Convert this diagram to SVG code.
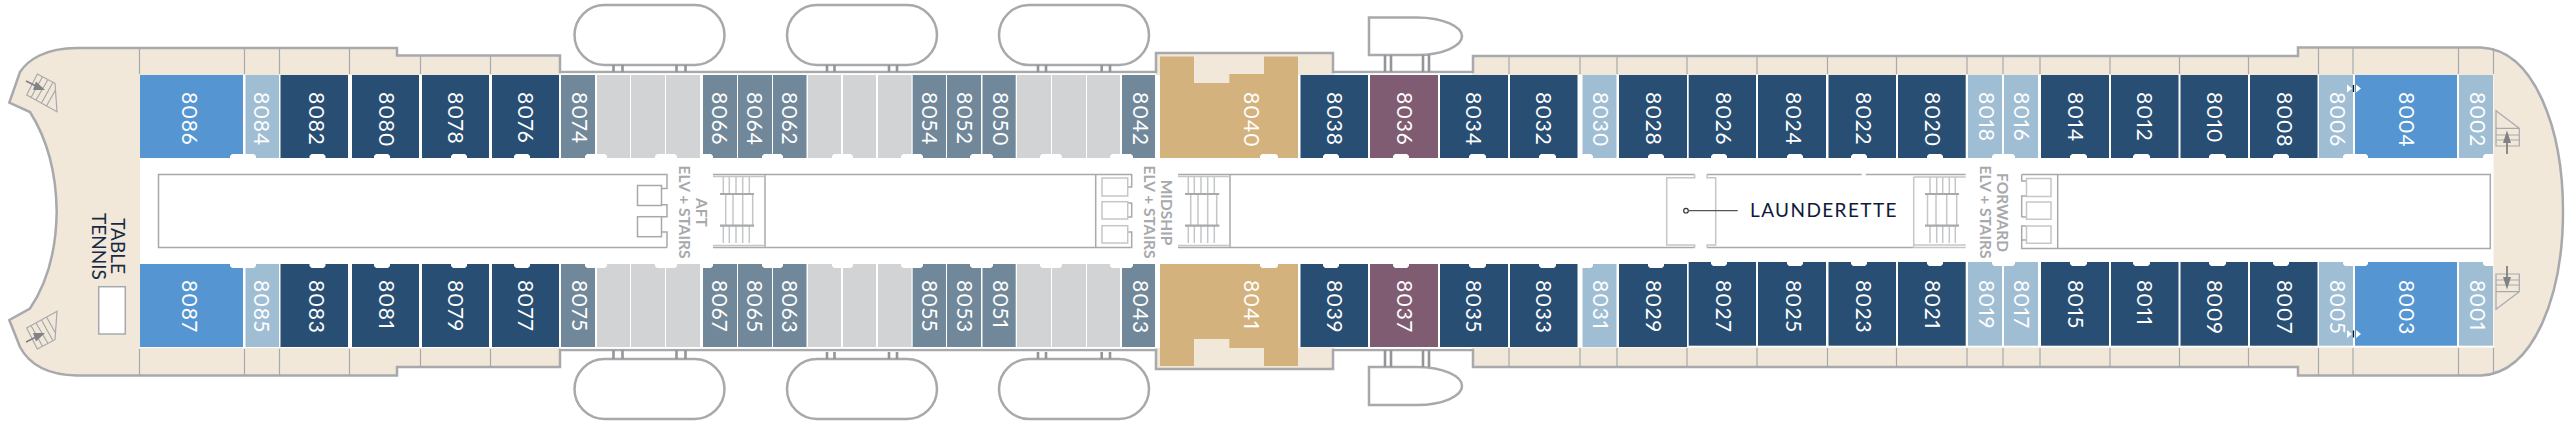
<svg xmlns="http://www.w3.org/2000/svg" width="2571" height="426" viewBox="0 0 2571 426">
<style>
text{font-family:"Lato","Liberation Sans",sans-serif}
.b{fill:#284e73}.m{fill:#5596d2}.l{fill:#9fbed4}.s{fill:#71889a}.g{fill:#d1d3d4}.p{fill:#7f5c71}.u{fill:#d4b27e}
.t{fill:#fff;font-size:21px;letter-spacing:.8px;font-variant-numeric:proportional-nums}
.e{fill:#a7a9ac;font-size:15.5px;font-weight:700;text-anchor:middle}
.h{fill:#1a2a44;font-size:19px;text-anchor:middle}
.n{fill:#fff}
.w{fill:none;stroke:#a7a9ac;stroke-width:1.5}
.w2{fill:none;stroke:#c4c6c8;stroke-width:1.5}
.hl{fill:#fff;stroke:#a7a9ac;stroke-width:2.5}
.d{stroke:#a7a9ac;stroke-width:1.2;fill:none}
.c{stroke:#939598;stroke-width:2.6;fill:none}
.a{fill:#808285}
.ar{stroke:#808285;stroke-width:1.8;fill:none}
</style>
<defs>
<g id="boat"><rect x="0" y="0" width="150" height="60" rx="30" class="hl"/></g>
</defs>
<g id="hull">
<path d="M77 48H397V55.500H560V72H1156V53H1333V72H1473V56H2298V47.500H2481C2535 50 2563 130 2563 211.500C2563 293 2535 373 2481 375.500H2298V367H1473V350H1333V369H1156V350H560V367H397V375.500H77C45 375 28 362 20 347L9.300 320L30 308.500Q56 270 56.700 211.500Q56 153 30 112L9.300 102.700L20 72C28 60 45 48 77 48Z" style="fill:#f1e8da;stroke:#a7a9ac;stroke-width:2.5"/>
<rect x="560.500" y="73.300" width="595" height="275.500" fill="#fff"/>
<rect x="1334.500" y="73.300" width="137.500" height="275.500" fill="#fff"/>
<rect x="140" y="75" width="1020" height="273" fill="#fff"/>
<rect x="1160" y="75" width="1333.500" height="272.500" fill="#fff"/>
<rect x="1190" y="74" width="78" height="10" fill="#f1e8da"/>
<rect x="1190" y="338" width="78" height="11" fill="#f1e8da"/>
<rect x="1299.500" y="74" width="33" height="1.500" fill="#f1e8da"/>
<rect x="1299.500" y="347.500" width="33" height="1.500" fill="#f1e8da"/>
</g>
<g id="balcony-dividers" class="d">
<path d="M139.500 48V74M244.500 48V74M279.500 48V74M349.500 48V74M420.500 56V74M490.500 56V74M1509 56V74M1580 56V74M1617 56V74M1687 56V74M1757 56V74M1827.500 56V74M1896.500 56V74M1967 56V74M2003 56V74M2040 56V74M2110 56V74M2179.500 56V74M2248.500 56V74M2318.500 48V74M2353 48V74M2458.500 48V74M2493.500 48V74"/>
<path d="M139.500 349V375M244.500 349V375M279.500 349V375M349.500 349V375M420.500 349V366M490.500 349V366M1509 348V366M1580 348V366M1617 348V366M1687 348V366M1757 348V366M1827.500 348V366M1896.500 348V366M1967 348V366M2003 348V366M2040 348V366M2110 348V366M2179.500 348V366M2248.500 348V366M2318.500 348V375M2353 348V375M2458.500 348V375M2493.500 348V375"/>
</g>
<g id="top-row">
<g id="c8086"><rect class="m" x="140" y="75" width="103" height="83"/><text class="t" transform="translate(181.500,92) rotate(90)">8086</text></g>
<g id="c8084"><rect class="l" x="245.500" y="75" width="33.500" height="83"/><text class="t" transform="translate(254,92) rotate(90)">8084</text></g>
<g id="c8082"><rect class="b" x="280.500" y="75" width="67.500" height="83"/><text class="t" transform="translate(309,92) rotate(90)">8082</text></g>
<g id="c8080"><rect class="b" x="352" y="75" width="67" height="83"/><text class="t" transform="translate(378.500,92) rotate(90)">8080</text></g>
<g id="c8078"><rect class="b" x="422" y="75" width="67" height="83"/><text class="t" transform="translate(447.500,92) rotate(90)">8078</text></g>
<g id="c8076"><rect class="b" x="492" y="75" width="67" height="83"/><text class="t" transform="translate(517.500,92) rotate(90)">8076</text></g>
<g id="c8074"><rect class="s" x="561" y="75" width="34" height="83"/><text class="t" transform="translate(572,92) rotate(90)">8074</text></g>
<rect class="g" x="597" y="75" width="33" height="83"/><rect class="g" x="631" y="75" width="34" height="83"/><rect class="g" x="666" y="75" width="34" height="83"/>
<g id="c8066"><rect class="s" x="703" y="75" width="34" height="83"/><text class="t" transform="translate(712,92) rotate(90)">8066</text></g>
<g id="c8064"><rect class="s" x="738" y="75" width="34" height="83"/><text class="t" transform="translate(746.500,92) rotate(90)">8064</text></g>
<g id="c8062"><rect class="s" x="773" y="75" width="33.500" height="83"/><text class="t" transform="translate(782,92) rotate(90)">8062</text></g>
<rect class="g" x="808" y="75" width="33" height="83"/><rect class="g" x="843" y="75" width="33" height="83"/><rect class="g" x="878" y="75" width="33.500" height="83"/>
<g id="c8054"><rect class="s" x="912.700" y="75" width="33.300" height="83"/><text class="t" transform="translate(922,92) rotate(90)">8054</text></g>
<g id="c8052"><rect class="s" x="947" y="75" width="34" height="83"/><text class="t" transform="translate(956.500,92) rotate(90)">8052</text></g>
<g id="c8050"><rect class="s" x="982.500" y="75" width="33.200" height="83"/><text class="t" transform="translate(992.500,92) rotate(90)">8050</text></g>
<rect class="g" x="1017" y="75" width="34" height="83"/><rect class="g" x="1052" y="75" width="34" height="83"/><rect class="g" x="1087" y="75" width="33" height="83"/>
<g id="c8042"><rect class="s" x="1122" y="75" width="33" height="83"/><text class="t" transform="translate(1132.500,92) rotate(90)">8042</text></g>
<g id="c8040"><path class="u" d="M1160 56.500H1194V83H1229.300V74H1264V56.500H1298V158H1160Z"/><text class="t" transform="translate(1243.500,92) rotate(90)">8040</text></g>
<g id="c8038"><rect class="b" x="1300.500" y="75" width="67.500" height="83"/><text class="t" transform="translate(1327,92) rotate(90)">8038</text></g>
<g id="c8036"><rect class="p" x="1370" y="75" width="68" height="83"/><text class="t" transform="translate(1396.500,92) rotate(90)">8036</text></g>
<g id="c8034"><rect class="b" x="1440" y="75" width="68" height="83"/><text class="t" transform="translate(1466,92) rotate(90)">8034</text></g>
<g id="c8032"><rect class="b" x="1510" y="75" width="67.500" height="83"/><text class="t" transform="translate(1536,92) rotate(90)">8032</text></g>
<g id="c8030"><rect class="l" x="1582.500" y="75" width="34" height="83"/><text class="t" transform="translate(1592.500,92) rotate(90)">8030</text></g>
<g id="c8028"><rect class="b" x="1619" y="75" width="68" height="83"/><text class="t" transform="translate(1646,92) rotate(90)">8028</text></g>
<g id="c8026"><rect class="b" x="1688.700" y="75" width="67.300" height="83"/><text class="t" transform="translate(1715.500,92) rotate(90)">8026</text></g>
<g id="c8024"><rect class="b" x="1758" y="75" width="68" height="83"/><text class="t" transform="translate(1786,92) rotate(90)">8024</text></g>
<g id="c8022"><rect class="b" x="1828.500" y="75" width="67.500" height="83"/><text class="t" transform="translate(1856,92) rotate(90)">8022</text></g>
<g id="c8020"><rect class="b" x="1898" y="75" width="67.700" height="83"/><text class="t" transform="translate(1925,92) rotate(90)">8020</text></g>
<g id="c8018"><rect class="l" x="1968" y="75" width="34" height="83"/><text class="t" transform="translate(1978.500,92) rotate(90)">8018</text></g>
<g id="c8016"><rect class="l" x="2004" y="75" width="34" height="83"/><text class="t" transform="translate(2013.500,92) rotate(90)">8016</text></g>
<g id="c8014"><rect class="b" x="2041" y="75" width="68" height="83"/><text class="t" transform="translate(2067.500,92) rotate(90)">8014</text></g>
<g id="c8012"><rect class="b" x="2111" y="75" width="67.500" height="83"/><text class="t" transform="translate(2136.500,92) rotate(90)">8012</text></g>
<g id="c8010"><rect class="b" x="2180.500" y="75" width="67.500" height="83"/><text class="t" transform="translate(2207,92) rotate(90)">8010</text></g>
<g id="c8008"><rect class="b" x="2250" y="75" width="67.500" height="83"/><text class="t" transform="translate(2277,92) rotate(90)">8008</text></g>
<g id="c8006"><rect class="l" x="2319" y="75" width="34" height="83"/><text class="t" transform="translate(2330,92) rotate(90)">8006</text></g>
<g id="c8004"><rect class="m" x="2355" y="75" width="102" height="83"/><text class="t" transform="translate(2399,92) rotate(90)">8004</text></g>
<g id="c8002"><rect class="l" x="2459" y="75" width="34" height="83"/><text class="t" transform="translate(2469.500,92) rotate(90)">8002</text></g>
</g>
<g id="bottom-row">
<g id="c8087"><rect class="m" x="140" y="264" width="103" height="83"/><text class="t" transform="translate(181.500,280) rotate(90)">8087</text></g>
<g id="c8085"><rect class="l" x="245.500" y="264" width="33.500" height="83"/><text class="t" transform="translate(254,280) rotate(90)">8085</text></g>
<g id="c8083"><rect class="b" x="280.500" y="264" width="67.500" height="83"/><text class="t" transform="translate(309,280) rotate(90)">8083</text></g>
<g id="c8081"><rect class="b" x="352" y="264" width="67" height="83"/><text class="t" transform="translate(378.500,280) rotate(90)">8081</text></g>
<g id="c8079"><rect class="b" x="422" y="264" width="67" height="83"/><text class="t" transform="translate(447.500,280) rotate(90)">8079</text></g>
<g id="c8077"><rect class="b" x="492" y="264" width="67" height="83"/><text class="t" transform="translate(517.500,280) rotate(90)">8077</text></g>
<g id="c8075"><rect class="s" x="561" y="264" width="34" height="83"/><text class="t" transform="translate(572,280) rotate(90)">8075</text></g>
<rect class="g" x="597" y="264" width="33" height="83"/><rect class="g" x="631" y="264" width="34" height="83"/><rect class="g" x="666" y="264" width="34" height="83"/>
<g id="c8067"><rect class="s" x="703" y="264" width="34" height="83"/><text class="t" transform="translate(712,280) rotate(90)">8067</text></g>
<g id="c8065"><rect class="s" x="738" y="264" width="34" height="83"/><text class="t" transform="translate(746.500,280) rotate(90)">8065</text></g>
<g id="c8063"><rect class="s" x="773" y="264" width="33.500" height="83"/><text class="t" transform="translate(782,280) rotate(90)">8063</text></g>
<rect class="g" x="808" y="264" width="33" height="83"/><rect class="g" x="843" y="264" width="33" height="83"/><rect class="g" x="878" y="264" width="33.500" height="83"/>
<g id="c8055"><rect class="s" x="912.700" y="264" width="33.300" height="83"/><text class="t" transform="translate(922,280) rotate(90)">8055</text></g>
<g id="c8053"><rect class="s" x="947" y="264" width="34" height="83"/><text class="t" transform="translate(956.500,280) rotate(90)">8053</text></g>
<g id="c8051"><rect class="s" x="982.500" y="264" width="33.200" height="83"/><text class="t" transform="translate(992.500,280) rotate(90)">8051</text></g>
<rect class="g" x="1017" y="264" width="34" height="83"/><rect class="g" x="1052" y="264" width="34" height="83"/><rect class="g" x="1087" y="264" width="33" height="83"/>
<g id="c8043"><rect class="s" x="1122" y="264" width="33" height="83"/><text class="t" transform="translate(1132.500,280) rotate(90)">8043</text></g>
<g id="c8041"><path class="u" d="M1160 366V264H1298V366H1264V348H1229.300V339H1194V366Z"/><text class="t" transform="translate(1243.500,280) rotate(90)">8041</text></g>
<g id="c8039"><rect class="b" x="1300.500" y="264" width="67.500" height="83"/><text class="t" transform="translate(1327,280) rotate(90)">8039</text></g>
<g id="c8037"><rect class="p" x="1370" y="264" width="68" height="83"/><text class="t" transform="translate(1396.500,280) rotate(90)">8037</text></g>
<g id="c8035"><rect class="b" x="1440" y="264" width="68" height="83"/><text class="t" transform="translate(1466,280) rotate(90)">8035</text></g>
<g id="c8033"><rect class="b" x="1510" y="264" width="67.500" height="83"/><text class="t" transform="translate(1536,280) rotate(90)">8033</text></g>
<g id="c8031"><rect class="l" x="1582.500" y="264" width="34" height="83"/><text class="t" transform="translate(1592.500,280) rotate(90)">8031</text></g>
<g id="c8029"><rect class="b" x="1619" y="264" width="68" height="83"/><text class="t" transform="translate(1646,280) rotate(90)">8029</text></g>
<g id="c8027"><rect class="b" x="1688.700" y="262" width="67.300" height="83.700"/><text class="t" transform="translate(1715.500,280) rotate(90)">8027</text></g>
<g id="c8025"><rect class="b" x="1758" y="262" width="68" height="83.700"/><text class="t" transform="translate(1786,280) rotate(90)">8025</text></g>
<g id="c8023"><rect class="b" x="1828.500" y="262" width="67.500" height="83.700"/><text class="t" transform="translate(1856,280) rotate(90)">8023</text></g>
<g id="c8021"><rect class="b" x="1898" y="262" width="67.700" height="83.700"/><text class="t" transform="translate(1925,280) rotate(90)">8021</text></g>
<g id="c8019"><rect class="l" x="1968" y="262" width="34" height="83.700"/><text class="t" transform="translate(1978.500,280) rotate(90)">8019</text></g>
<g id="c8017"><rect class="l" x="2004" y="262" width="34" height="83.700"/><text class="t" transform="translate(2013.500,280) rotate(90)">8017</text></g>
<g id="c8015"><rect class="b" x="2041" y="262" width="68" height="83.700"/><text class="t" transform="translate(2067.500,280) rotate(90)">8015</text></g>
<g id="c8011"><rect class="b" x="2111" y="262" width="67.500" height="83.700"/><text class="t" transform="translate(2136.500,280) rotate(90)">8011</text></g>
<g id="c8009"><rect class="b" x="2180.500" y="262" width="67.500" height="83.700"/><text class="t" transform="translate(2207,280) rotate(90)">8009</text></g>
<g id="c8007"><rect class="b" x="2250" y="262" width="67.500" height="83.700"/><text class="t" transform="translate(2277,280) rotate(90)">8007</text></g>
<g id="c8005"><rect class="l" x="2319" y="262" width="34" height="83.700"/><text class="t" transform="translate(2330,280) rotate(90)">8005</text></g>
<g id="c8003"><rect class="m" x="2355" y="262" width="102" height="83.700"/><text class="t" transform="translate(2399,280) rotate(90)">8003</text></g>
<g id="c8001"><rect class="l" x="2459" y="262" width="34" height="83.700"/><text class="t" transform="translate(2469.500,280) rotate(90)">8001</text></g>
</g>
<g id="door-recesses" class="n">
<path d="M230 159V156l2-2h22l2 2v3ZM309.500 159V156l2-2h12l2 2v3ZM374 159V156l2-2h12l2 2v3ZM451 159V156l2-2h12l2 2v3ZM514 159V156l2-2h12l2 2v3ZM585 159V156l2-2h18l2 2v3ZM655 159V156l2-2h18l2 2v3ZM700 159V75h3V154h8l2 2v3ZM762 159V156l2-2h17l2 2v3ZM832 159V156l2-2h17l2 2v3ZM901 159V156l2-2h18l2 2v3ZM970 159V156l2-2h19l2 2v3ZM1040 159V156l2-2h18l2 2v3ZM1110 159V156l2-2h19l2 2v3ZM1260 159V156l2-2h14l2 2v3ZM1323 159V156l2-2h12l2 2v3ZM1393 159V156l2-2h12l2 2v3ZM1469 159V156l2-2h13l2 2v3ZM1539 159V156l2-2h13l2 2v3ZM1582 159V154h9l2 2v3ZM1648 159V156l2-2h12l2 2v3ZM1711 159V156l2-2h12l2 2v3ZM1787 159V156l2-2h12l2 2v3ZM1851 159V156l2-2h12l2 2v3ZM1927 159V156l2-2h12l2 2v3ZM1992 159V156l2-2h19l2 2v3ZM2070 159V156l2-2h13l2 2v3ZM2133 159V156l2-2h13l2 2v3ZM2209 159V156l2-2h13l2 2v3ZM2273 159V156l2-2h12l2 2v3ZM2343 159V156l2-2h21l2 2v3ZM2483 159V156l2-2h8v5Z"/>
<path d="M230 263V266l2 2h22l2-2v-3ZM309.500 263V266l2 2h12l2-2v-3ZM374 263V266l2 2h12l2-2v-3ZM451 263V266l2 2h12l2-2v-3ZM514 263V266l2 2h12l2-2v-3ZM585 263V266l2 2h18l2-2v-3ZM655 263V266l2 2h18l2-2v-3ZM700 263V348h3V268h8l2-2v-3ZM762 263V266l2 2h17l2-2v-3ZM832 263V266l2 2h17l2-2v-3ZM901 263V266l2 2h18l2-2v-3ZM970 263V266l2 2h19l2-2v-3ZM1040 263V266l2 2h18l2-2v-3ZM1110 263V266l2 2h19l2-2v-3ZM1260 263V266l2 2h14l2-2v-3ZM1323 263V266l2 2h12l2-2v-3ZM1393 263V266l2 2h12l2-2v-3ZM1469 263V266l2 2h13l2-2v-3ZM1539 263V266l2 2h13l2-2v-3ZM1582 263V268h9l2-2v-3ZM1648 263V266l2 2h12l2-2v-3ZM1711 261V264l2 2h12l2-2v-3ZM1787 261V264l2 2h12l2-2v-3ZM1851 261V264l2 2h12l2-2v-3ZM1927 261V264l2 2h12l2-2v-3ZM1992 261V264l2 2h19l2-2v-3ZM2070 261V264l2 2h13l2-2v-3ZM2133 261V264l2 2h13l2-2v-3ZM2209 261V264l2 2h13l2-2v-3ZM2273 261V264l2 2h12l2-2v-3ZM2343 261V264l2 2h21l2-2v-3ZM2483 261V264l2 2h8v-5Z"/>
</g>
<g id="corridors">
<path class="w" d="M667 247.500H158.500V174.500H667V188.500H662M662 204.700H667V216.700H662M662 232H667V247.500"/>
<rect class="w" x="637.500" y="185.500" width="24" height="20"/>
<rect class="w" x="637.500" y="216.700" width="24" height="20"/>
<path class="w" d="M713 174.500H1131.700V187H1128M1128 203H1131.700V217H1128M1128 232H1131.700V247.500H713"/>
<path class="w" d="M765 174.500V247.500M1095.700 174.500V247.500"/>
<rect class="w2" x="1102" y="178" width="25.700" height="18"/>
<rect class="w2" x="1102" y="201.700" width="25.700" height="17.300"/>
<rect class="w2" x="1102" y="225.700" width="25.700" height="17.300"/>
<path class="w" d="M1178 174.500H1694.700M1178 247.500H1694.700M1230 174.500V247.500M1707 174.500H1861.700M1865.700 174.500H1965.700M1707 247.500H1913.700"/>
<path class="w2" d="M1694.700 174.500V177.700H1666.700V245H1694.700V247.500M1707 174.500V177.700H1715.700V245H1707V247.500"/>
<path class="w2" d="M1913.700 177V247.500M1913.700 177H1965.700M1913.700 245H1965.700M1965.700 247.500H1913.700"/>
<path class="w" d="M2021.700 174.500H2490.300V248.500H2021.700V240H2026M2021.700 174.500V181H2026M2026 196H2021.700V202M2021.700 217H2026M2021.700 202V217M2026 226H2021.700V240M2057.700 174.500V248.500"/>
<rect class="w2" x="2026.500" y="178.500" width="24.500" height="18"/>
<rect class="w2" x="2026.500" y="202" width="24.500" height="17.300"/>
<rect class="w2" x="2026.500" y="226" width="24.500" height="17.300"/>
</g>
<g id="aft-stairs" class="w2">
<path d="M713 176.500H765M713 245.500H765M723.300 177V194M729.300 177V194M736 177V194M742.700 177V194M749.300 177V194M725.700 194V226M733 194V226M742.700 194V226M752.700 194V226M723.300 226V243M729.300 226V243M736 226V243M742.700 226V243M749.300 226V243"/>
<path d="M720 194H754M720 225.700H754" style="stroke:#a7a9ac;stroke-width:2.2"/>
</g>
<g id="mid-stairs" class="w2">
<path d="M1178 176.500H1230M1178 245.500H1230M1188.300 177V194M1194.300 177V194M1201 177V194M1207.700 177V194M1214.300 177V194M1190.700 194V226M1198 194V226M1207.700 194V226M1216.700 194V226M1188.300 226V243M1194.300 226V243M1201 226V243M1207.700 226V243M1214.300 226V243"/>
<path d="M1185 194H1219.300M1185 225.700H1219.300" style="stroke:#a7a9ac;stroke-width:2.2"/>
</g>
<g id="fwd-stairs" class="w2">
<path d="M1930 177V194M1936.700 177V194M1942.700 177V194M1949.300 177V194M1955.300 177V194M1927.500 194V226M1936 194V226M1946.700 194V226M1956.700 194V226M1930 226V243M1936.700 226V243M1942.700 226V243M1949.300 226V243M1955.300 226V243"/>
<path d="M1925 194H1959M1925 225.700H1959" style="stroke:#a7a9ac;stroke-width:2.2"/>
</g>
<g id="labels">
<text class="e" transform="translate(696,212.500) rotate(90)">AFT</text>
<text class="e" transform="translate(679,212) rotate(90)">ELV + STAIRS</text>
<text class="e" transform="translate(1161,212.500) rotate(90)">MIDSHIP</text>
<text class="e" transform="translate(1144,212) rotate(90)">ELV + STAIRS</text>
<text class="e" transform="translate(1997,212.500) rotate(90)">FORWARD</text>
<text class="e" transform="translate(1980,212) rotate(90)">ELV + STAIRS</text>
<text class="h" transform="translate(111,246) rotate(90)">TABLE</text>
<text class="h" transform="translate(92,246.500) rotate(90)">TENNIS</text>
<text x="1750" y="217" style="fill:#0e1a3a;font-size:19px;letter-spacing:1.4px">LAUNDERETTE</text>
</g>
<g id="table-tennis"><rect x="98.700" y="286.700" width="26.600" height="47.300" style="fill:#fff;stroke:#a7a9ac;stroke-width:1.5"/></g>
<g id="launderette-leader"><circle cx="1686" cy="210.700" r="2.300" fill="#fff" stroke="#333" stroke-width="1.200"/><path d="M1688.300 210.700H1737.700" stroke="#555" stroke-width="1.200"/></g>
<g id="boats">
<use href="#boat" x="574.500" y="5"/><use href="#boat" x="787" y="5"/><use href="#boat" x="999" y="5"/>
<use href="#boat" x="574.500" y="359"/><use href="#boat" x="787" y="359"/><use href="#boat" x="999" y="359"/>
<path class="hl" d="M1369 17.500H1416.700C1444 17.500 1462 27 1462 36.300C1462 45.500 1444 55 1416.700 55H1369Z"/>
<path class="hl" d="M1369 367H1416.700C1444 367 1462 376.500 1462 386C1462 395.500 1444 405 1416.700 405H1369Z"/>
</g>
<g id="connectors" class="c">
<path d="M613.500 65V72M622.500 65V72M676.500 65V72M685.500 65V72M827 65V72M834.500 65V72M889 65V72M897 65V72M1038 65V72M1046 65V72M1101.700 65V72M1110 65V72M1385 55V72M1391 55V72M1423 55V72M1429 55V72"/>
<path d="M613.500 350V359M622.500 350V359M676.500 350V359M685.500 350V359M827 352V359M834.500 352V359M889 352V359M897 352V359M1038 352V359M1046 352V359M1101.700 352V359M1110 352V359M1385 350V367M1391 350V367M1423 350V367M1429 350V367"/>
</g>
<g id="stern-stairs">
<g class="d"><path d="M37.300 74L55 83.300L57 111.700L26.700 95ZM42.500 76.700L31 97.500M48 79.500L36 100M53 82.300L41.500 103M55.500 90L46.500 106"/>
<path d="M37.300 349L55 339.700L57 311.300L26.700 328ZM42.500 346.300L31 325.500M48 343.500L36 323M53 340.700L41.500 320M55.500 333L46.500 317"/></g>
<path class="ar" d="M26 81L38 87M26 342L38 336"/>
<path class="a" d="M45 90L33 90L36 81.500ZM45 333L33 333L36 341.500Z"/>
<g class="d"><path d="M2496 110.700L2519.300 128.300V146H2496ZM2496 128.300H2519.300M2496 135H2519.300M2496 140H2519.300"/>
<path d="M2496 309.300L2519.300 291.700V274H2496ZM2496 291.700H2519.300M2496 285H2519.300M2496 280H2519.300"/></g>
<path class="ar" d="M2507 154V138M2507 266V282"/>
<path class="a" d="M2507 130.500L2511 143H2503ZM2507 289.500L2511 277H2503Z"/>
</g>
<g id="markers">
<path d="M2347 84.500L2352 88.500L2347 92.500ZM2356 84.500L2361 88.500L2356 92.500ZM2347 330L2352 334L2347 338ZM2356 330L2361 334L2356 338Z" fill="#fff"/>
<path d="M2353.500 85V92M2353.500 330.500V337.500" stroke="#111" stroke-width="1.300"/>
</g>
</svg>
